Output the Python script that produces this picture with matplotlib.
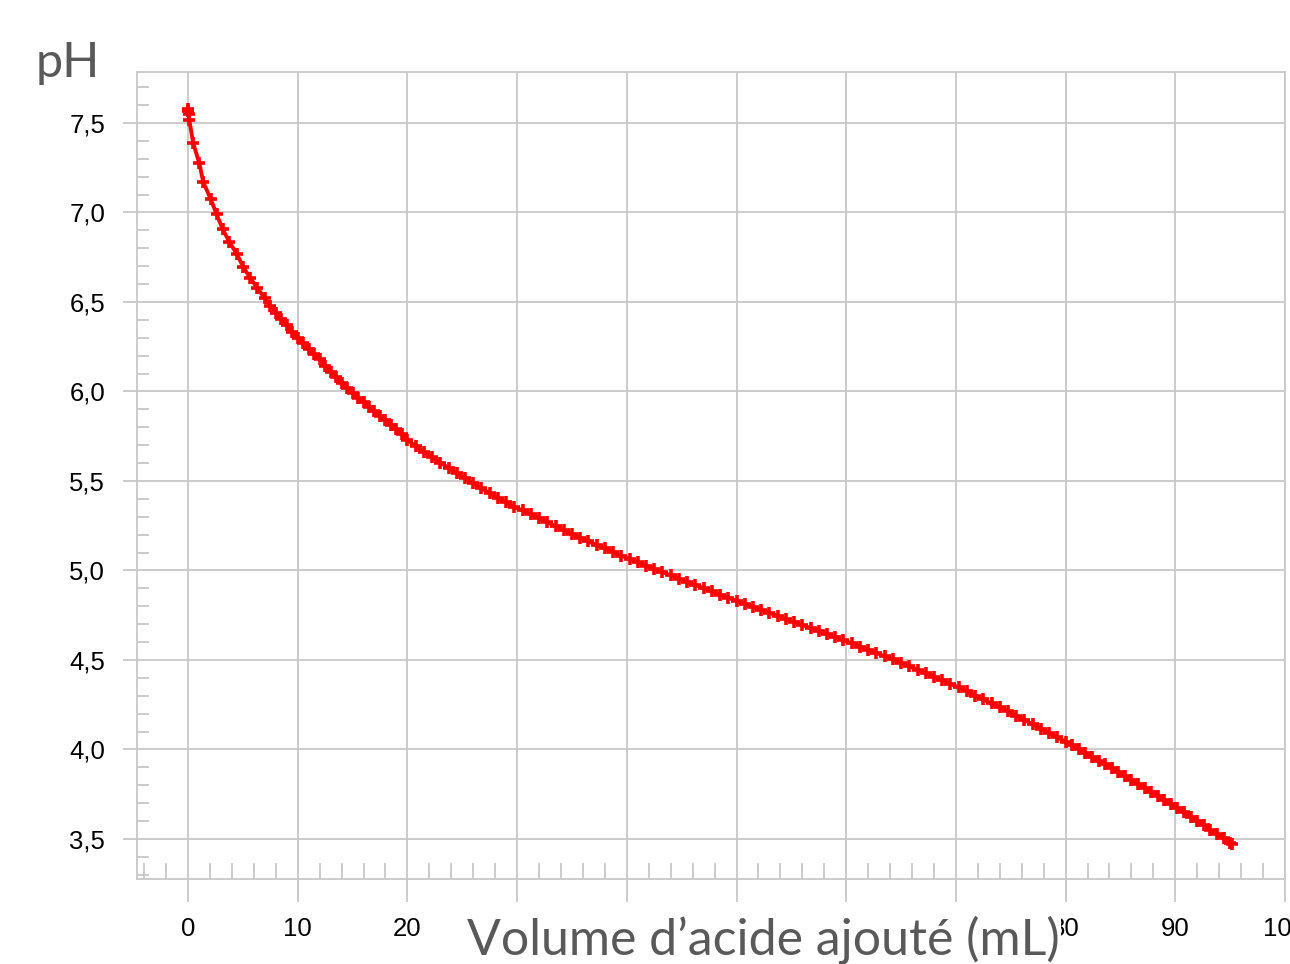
import matplotlib
matplotlib.use('Agg')
import matplotlib.pyplot as plt
from matplotlib.ticker import MultipleLocator

# volume d'acide ajouté (mL) et pH
volume = [0, 0.02, 0.05, 0.12, 0.48, 1.03, 1.39, 2.07, 2.61, 3.16, 3.77, 4.43, 5.04, 5.65, 6.31,
          7.0, 7.5, 8.0, 8.5, 9.0, 9.5, 10.0, 10.5, 11.0, 11.5, 12.0, 12.5, 13.0, 13.5,
          14.0, 14.5, 15.0, 15.5, 16.0, 16.5, 17.0, 17.5, 18.0, 18.5, 19.0, 19.5, 20.0,
          20.75, 21.5, 22.25, 23.0, 23.75, 24.5, 25.25, 26.0, 26.75, 27.5, 28.25, 29.0, 29.75,
          30.5, 31.25, 32.0, 32.75, 33.5, 34.25, 35.0, 35.75, 36.5, 37.25, 38.0, 38.75, 39.5,
          40.25, 41.0, 41.75, 42.5, 43.25, 44.0, 44.75, 45.5, 46.25, 47.0, 47.75, 48.5, 49.25,
          50.0, 50.75, 51.5, 52.25, 53.0, 53.75, 54.5, 55.25, 56.0, 56.75, 57.5, 58.25, 59.0,
          59.75, 60.5, 61.25, 62.0, 62.75, 63.5, 64.25, 65.0, 65.75, 66.5, 67.25, 68.0, 68.75,
          69.5, 70.25, 71.0, 71.75, 72.5, 73.25, 74.0, 74.75, 75.5, 76.25, 77.0, 77.75, 78.5,
          79.25, 80.0, 80.6, 81.2, 81.8, 82.4, 83.0, 83.6, 84.2, 84.8, 85.4, 86.0, 86.6, 87.2,
          87.8, 88.4, 89.0, 89.6, 90.2, 90.8, 91.4, 92.0, 92.6, 93.2, 93.8, 94.4, 95.0, 95.2]
ph = [7.58, 7.565, 7.55, 7.515, 7.386, 7.275, 7.17, 7.075, 6.99, 6.907, 6.836, 6.77, 6.696, 6.635, 6.58,
      6.52, 6.48, 6.44, 6.405, 6.37, 6.335, 6.30, 6.27, 6.24, 6.21, 6.18, 6.145, 6.11, 6.08,
      6.05, 6.02, 5.99, 5.965, 5.94, 5.915, 5.89, 5.865, 5.84, 5.815, 5.79, 5.76, 5.73,
      5.694, 5.663, 5.633, 5.603, 5.573, 5.544, 5.515, 5.487, 5.459, 5.432, 5.406, 5.380, 5.354,
      5.335, 5.313, 5.291, 5.269, 5.247, 5.225, 5.203, 5.183, 5.163, 5.143, 5.123, 5.103, 5.083,
      5.064, 5.046, 5.027, 5.009, 4.991, 4.972, 4.954, 4.936, 4.918, 4.901, 4.883, 4.865, 4.848,
      4.830, 4.813, 4.796, 4.780, 4.763, 4.746, 4.729, 4.712, 4.695, 4.678, 4.661, 4.644, 4.627,
      4.610, 4.593, 4.575, 4.557, 4.539, 4.521, 4.503, 4.485, 4.465, 4.445, 4.426, 4.406, 4.386,
      4.366, 4.346, 4.324, 4.301, 4.279, 4.257, 4.235, 4.212, 4.189, 4.164, 4.140, 4.116, 4.092,
      4.067, 4.043, 4.022, 4.001, 3.980, 3.959, 3.938, 3.917, 3.896, 3.875, 3.853, 3.830, 3.808, 3.785,
      3.763, 3.740, 3.718, 3.695, 3.672, 3.648, 3.624, 3.600, 3.576, 3.551, 3.527, 3.503, 3.478, 3.472]

xticks = [0, 10, 20, 30, 40, 50, 60, 70, 80, 90, 100]
# 30 to 70 are hidden under the axis title in the original
xtick_labels = ['0', '10', '20', '', '', '', '', '', '80', '90', '100']
yticks = [3.5, 4.0, 4.5, 5.0, 5.5, 6.0, 6.5, 7.0, 7.5]
ytick_labels = ['3,5', '4,0', '4,5', '5,0', '5,5', '6,0', '6,5', '7,0', '7,5']

grey = '#c8c8c8'
label_grey = '#595959'

fig = plt.figure(figsize=(12.9, 9.64), dpi=100)
ax = fig.add_axes([137/1290, 1 - 879/964, (1285-137)/1290, (879-72)/964])

ax.plot(volume, ph, color='red', lw=2.8, marker='+', ms=9, mew=2.6, zorder=3)

ax.set_xlim(-4.65, 100)
ax.set_ylim(3.276, 7.785)
ax.set_xticks(xticks)
ax.set_xticklabels(xtick_labels)
ax.set_yticks(yticks)
ax.set_yticklabels(ytick_labels)
ax.xaxis.set_minor_locator(MultipleLocator(2))
ax.yaxis.set_minor_locator(MultipleLocator(0.1))

ax.grid(True, which='major', color=grey, lw=1.3)
ax.set_axisbelow(True)
for s in ax.spines.values():
    s.set_color(grey)
    s.set_linewidth(1.3)

ax.tick_params(axis='x', which='major', direction='out', length=16.5, width=1.3,
               color=grey, pad=11)
ax.tick_params(axis='y', which='major', direction='out', length=10, width=1.3,
               color=grey, pad=13)
ax.tick_params(axis='x', which='minor', direction='in', length=11.5, width=1.3, color=grey)
ax.tick_params(axis='y', which='minor', direction='in', length=8.5, width=1.3, color=grey)
for lab in ax.get_xticklabels() + ax.get_yticklabels():
    lab.set_fontfamily('Liberation Sans')
    lab.set_fontsize(18.5)
    lab.set_color('black')

fig.text(763/1290, 1 - 955/964, 'Volume d\u2019acide ajouté (mL)', ha='center', va='baseline',
         fontsize=36, family='Lato', color=label_grey, zorder=5,
         bbox=dict(facecolor='white', edgecolor='none', pad=1))
fig.text(36/1290, 1 - 77/964, 'pH', ha='left', va='baseline',
         fontsize=35, family='Lato', color=label_grey)

fig.savefig('out.png', dpi=100)
